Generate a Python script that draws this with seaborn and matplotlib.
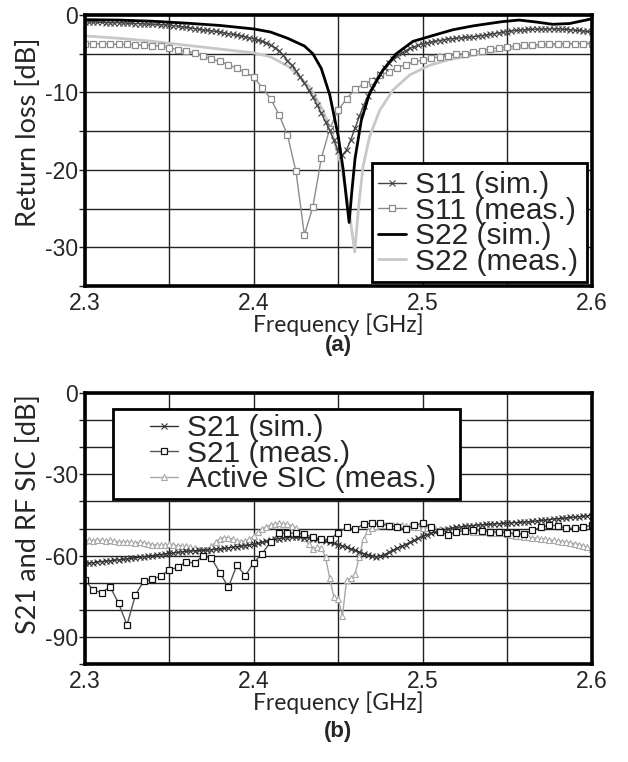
import numpy as np
import matplotlib
matplotlib.use('Agg')
import matplotlib.pyplot as plt
import seaborn as sns
from matplotlib.patches import Rectangle
from matplotlib.ticker import MultipleLocator, FixedLocator

# ---------------- data ----------------
# frequency grids [GHz]
freq_fine = np.round(np.linspace(2.3, 2.6, 121), 4)    # 2.5 MHz step
freq_coarse = np.round(np.linspace(2.3, 2.6, 61), 4)   # 5 MHz step

# (a) return loss [dB]
s11_sim = [-0.9, -0.9, -0.9, -0.92, -0.95, -0.97, -1.0, -1.0, -1.0, -1.02,
           -1.05, -1.07, -1.1, -1.12, -1.15, -1.17, -1.2, -1.22, -1.25, -1.27,
           -1.3, -1.37, -1.45, -1.52, -1.6, -1.67, -1.75, -1.82, -1.9, -1.97,
           -2.05, -2.12, -2.2, -2.3, -2.4, -2.5, -2.6, -2.7, -2.8, -2.95,
           -3.1, -3.25, -3.4, -3.6, -3.9, -4.2, -4.6, -5.2, -5.9, -6.5,
           -7.2, -8.0, -8.8, -9.7, -10.6, -11.6, -12.7, -13.8, -14.9, -16.2,
           -17.6, -18.1, -17.4, -16.1, -14.6, -13.1, -11.7, -10.5, -9.4, -8.4,
           -7.6, -6.9, -6.2, -5.7, -5.3, -4.9, -4.6, -4.3, -4.1, -3.9,
           -3.7, -3.6, -3.5, -3.4, -3.3, -3.2, -3.1, -3.05, -3.0, -2.95,
           -2.9, -2.85, -2.8, -2.72, -2.65, -2.57, -2.5, -2.4, -2.3, -2.22,
           -2.15, -2.07, -2.0, -1.95, -1.9, -1.87, -1.85, -1.82, -1.8, -1.8,
           -1.8, -1.8, -1.8, -1.82, -1.85, -1.9, -1.95, -2.0, -2.05, -2.12,
           -2.2]

s11_meas = [-3.7, -3.7, -3.75, -3.75, -3.8, -3.8, -3.85, -3.9, -3.95, -4.0,
            -4.2, -4.5, -4.7, -4.9, -5.3, -5.7, -6.0, -6.4, -6.9, -7.4,
            -8.0, -9.4, -10.8, -12.9, -15.5, -20.2, -28.4, -24.8, -18.5, -14.7,
            -12.3, -10.8, -9.6, -8.9, -8.5, -7.8, -7.3, -6.8, -6.4, -6.0,
            -5.85, -5.6, -5.4, -5.3, -5.1, -5.0, -4.8, -4.6, -4.4, -4.2,
            -4.1, -4.0, -3.9, -3.85, -3.8, -3.75, -3.7, -3.7, -3.7, -3.7,
            -3.7]

s22_sim_freq = [2.300, 2.320, 2.340, 2.360, 2.380, 2.400, 2.410, 2.420, 2.430,
                2.435, 2.440, 2.445, 2.450, 2.453, 2.455, 2.4565, 2.458, 2.460,
                2.4637, 2.4686, 2.4765, 2.4844, 2.4943, 2.510, 2.518, 2.530,
                2.547, 2.557, 2.567, 2.577, 2.587, 2.600]
s22_sim = [-0.6, -0.65, -0.8, -1.05, -1.35, -1.8, -2.2, -3.0, -4.0,
           -5.0, -6.9, -10.3, -15.6, -20.0, -24.0, -26.8, -23.0, -18.5,
           -13.6, -10.1, -7.1, -5.0, -3.4, -2.4, -1.9, -1.4,
           -0.86, -0.65, -0.9, -1.2, -1.1, -0.5]

s22_meas_freq = [2.300, 2.320, 2.340, 2.360, 2.380, 2.400, 2.410, 2.421, 2.433,
                 2.441, 2.447, 2.452, 2.4558, 2.4598, 2.4623, 2.4647, 2.4686,
                 2.4746, 2.4824, 2.4923, 2.504, 2.515, 2.530, 2.550, 2.570, 2.600]
s22_meas = [-2.7, -3.0, -3.4, -3.9, -4.4, -4.9, -5.4, -6.7, -9.3,
            -12.3, -15.7, -19.6, -24.3, -30.6, -24.3, -19.6, -15.7,
            -12.3, -9.7, -7.75, -6.5, -5.8, -5.2, -4.4, -4.0, -3.6]

# (b) S21 and RF SIC [dB]
s21_sim = [-62.9, -62.8, -62.6, -62.4, -62.2, -62.0, -61.9, -61.7, -61.6, -61.4,
           -61.2, -61.0, -60.8, -60.6, -60.4, -60.2, -60.0, -59.8, -59.6, -59.4,
           -59.2, -59.0, -58.8, -58.6, -58.4, -58.3, -58.2, -58.1, -58.0, -57.9,
           -57.8, -57.7, -57.5, -57.3, -57.1, -56.9, -56.7, -56.5, -56.3, -56.1,
           -55.8, -55.5, -55.1, -54.7, -54.3, -54.0, -53.7, -53.5, -53.4, -53.3,
           -53.3, -53.3, -53.4, -53.5, -53.7, -54.0, -54.4, -54.7, -55.1, -55.5,
           -55.9, -56.4, -56.9, -57.5, -58.1, -58.7, -59.3, -59.8, -60.2, -60.4,
           -60.2, -59.6, -58.8, -58.0, -57.3, -56.6, -55.9, -55.1, -54.4, -53.6,
           -52.9, -52.3, -51.7, -51.3, -50.9, -50.5, -50.2, -49.9, -49.6, -49.4,
           -49.2, -49.0, -48.9, -48.7, -48.6, -48.5, -48.4, -48.3, -48.2, -48.1,
           -48.0, -47.9, -47.8, -47.7, -47.6, -47.5, -47.4, -47.2, -47.0, -46.9,
           -46.7, -46.5, -46.4, -46.2, -46.1, -45.9, -45.8, -45.6, -45.5, -45.3,
           -45.2]

s21_meas = [-69.0, -72.7, -73.7, -71.5, -77.6, -85.6, -74.5, -69.3, -68.8, -67.5,
            -65.3, -64.3, -62.2, -62.8, -60.0, -61.0, -66.3, -71.7, -63.5, -67.4,
            -62.6, -59.3, -54.9, -51.8, -51.6, -51.8, -52.0, -53.3, -54.0, -54.0,
            -51.6, -49.6, -50.3, -48.3, -48.1, -48.1, -49.0, -49.3, -50.3, -48.7,
            -48.1, -49.3, -51.2, -52.4, -51.2, -50.8, -50.6, -50.8, -51.2, -51.4,
            -51.6, -51.8, -52.0, -50.6, -49.6, -48.7, -49.0, -49.9, -49.9, -49.6,
            -48.7]

active_sic = [-54.6, -54.3, -54.5, -54.2, -54.4, -54.6, -54.3, -54.7, -54.9, -55.0,
              -54.8, -55.1, -55.3, -55.0, -55.4, -55.6, -55.9, -56.0, -56.2, -56.1,
              -55.8, -56.0, -56.3, -56.4, -56.6, -56.9, -57.3, -57.8, -58.3, -58.0,
              -56.6, -55.0, -53.8, -53.4, -53.5, -53.9, -54.6, -55.0, -54.6, -54.0,
              -52.8, -51.3, -50.2, -49.3, -48.7, -48.3, -48.1, -48.2, -48.5, -48.9,
              -49.9, -51.5, -53.4, -55.8, -57.7, -57.0, -57.2, -60.5, -68.4, -75.4,
              -76.1, -82.3, -69.0, -68.4, -66.8, -60.5, -53.8, -51.0, -49.8, -49.0,
              -48.8, -48.7, -48.7, -48.6, -48.7, -48.8, -49.0, -49.1, -49.3, -49.5,
              -49.7, -49.9, -50.1, -50.2, -50.3, -50.4, -50.5, -50.6, -50.7, -50.8,
              -50.9, -51.0, -51.1, -51.2, -51.3, -51.4, -51.5, -51.6, -51.7, -51.8,
              -52.0, -52.3, -52.6, -52.8, -53.0, -53.2, -53.4, -53.6, -53.8, -54.0,
              -54.2, -54.4, -54.6, -54.8, -55.0, -55.3, -55.6, -55.9, -56.4, -57.0,
              -57.7]

x_ticks = [2.3, 2.4, 2.5, 2.6]
x_tick_labels = ['2.3', '2.4', '2.5', '2.6']

# ---------------- style ----------------
sns.set_style('white')
plt.rcParams['font.family'] = ['Liberation Sans', 'DejaVu Sans']
plt.rcParams['axes.unicode_minus'] = False
label_font = ['Lato', 'DejaVu Sans']

fig = plt.figure(figsize=(6.28, 7.62), dpi=100)
ax1 = fig.add_axes([0.135, 0.6247, 0.807, 0.3556])
ax2 = fig.add_axes([0.135, 0.1286, 0.807, 0.3556])

# top chart
sns.lineplot(x=s22_meas_freq, y=s22_meas, ax=ax1, color='#c8c8c8', lw=2.0,
             label='S22 (meas.)', zorder=2)
sns.lineplot(x=freq_coarse, y=s11_meas, ax=ax1, color='#8c8c8c', lw=1.0,
             marker='s', ms=5, mfc='white', mec='#8c8c8c', mew=0.9,
             label='S11 (meas.)', zorder=3)
sns.lineplot(x=freq_fine, y=s11_sim, ax=ax1, color='#444444', lw=1.0,
             marker='x', ms=4.5, mec='#444444', mew=0.8,
             label='S11 (sim.)', zorder=3)
sns.lineplot(x=s22_sim_freq, y=s22_sim, ax=ax1, color='black', lw=2.0,
             label='S22 (sim.)', zorder=3)

# bottom chart
sns.lineplot(x=freq_fine, y=active_sic, ax=ax2, color='#a8a8a8', lw=1.0,
             marker='^', ms=4.5, mfc='white', mec='#a8a8a8', mew=0.8,
             label='Active SIC (meas.)', zorder=2)
sns.lineplot(x=freq_fine, y=s21_sim, ax=ax2, color='#333333', lw=1.0,
             marker='x', ms=4.5, mec='#333333', mew=0.8,
             label='S21 (sim.)', zorder=3)
sns.lineplot(x=freq_coarse, y=s21_meas, ax=ax2, color='#555555', lw=1.0,
             marker='s', ms=5, mfc='white', mec='#111111', mew=0.9,
             label='S21 (meas.)', zorder=3)

for ax, ylim, major, minor, ylabel, ycoord in [
        (ax1, (-35, 0), 10, 5, 'Return loss [dB]', 0.568),
        (ax2, (-100, 0), 30, 10, 'S21 and RF SIC [dB]', 0.553)]:
    ax.set_xlim(2.3, 2.6)
    ax.set_ylim(*ylim)
    ax.xaxis.set_major_locator(FixedLocator(x_ticks))
    ax.set_xticklabels(x_tick_labels)
    ax.xaxis.set_minor_locator(MultipleLocator(0.05))
    ax.yaxis.set_major_locator(MultipleLocator(major))
    ax.yaxis.set_minor_locator(MultipleLocator(minor))
    ax.grid(which='both', color='#222222', lw=1.0)
    ax.set_axisbelow(True)
    ax.tick_params(axis='y', which='both', direction='out', length=4,
                   width=1, color='#222222', pad=1, labelsize=16.5, left=True)
    ax.tick_params(axis='x', which='both', length=0, pad=4, labelsize=16.5)
    for sp in ax.spines.values():
        sp.set_visible(True)
        sp.set_color('black')
        sp.set_linewidth(2.6)
        sp.set_zorder(10)
    ax.set_xlabel('Frequency [GHz]', family=label_font, fontsize=16.4, va='center')
    ax.xaxis.set_label_coords(0.5, -0.142)
    ax.set_ylabel(ylabel, family=label_font, fontsize=19.5, va='center')
    ax.yaxis.set_label_coords(-0.112, ycoord)

# legends: white box drawn separately, entries on top
leg_kw = dict(frameon=False, fontsize=21.5, handlelength=0.95, handletextpad=0.3,
              labelspacing=-0.08, borderpad=0, borderaxespad=0, numpoints=1,
              loc='upper left')

ax1.add_patch(Rectangle((0.566, 0.0148), 0.424, 0.439, transform=ax1.transAxes,
                        facecolor='white', edgecolor='black', lw=2, zorder=4))
h, l = ax1.get_legend_handles_labels()
order1 = ['S11 (sim.)', 'S11 (meas.)', 'S22 (sim.)', 'S22 (meas.)']
leg1 = ax1.legend([h[l.index(k)] for k in order1], order1,
                  bbox_to_anchor=(0.578, 0.424), **leg_kw)
leg1.set_zorder(6)

ax2.add_patch(Rectangle((0.0552, 0.609), 0.686, 0.332, transform=ax2.transAxes,
                        facecolor='white', edgecolor='black', lw=2, zorder=4))
h, l = ax2.get_legend_handles_labels()
order2 = ['S21 (sim.)', 'S21 (meas.)', 'Active SIC (meas.)']
leg2 = ax2.legend([h[l.index(k)] for k in order2], order2,
                  bbox_to_anchor=(0.128, 0.922), **leg_kw)
leg2.set_zorder(6)

fig.text(0.539, 1 - 346 / 762, '(a)', ha='center', va='center',
         fontsize=16, fontweight='bold')
fig.text(0.539, 1 - 731 / 762, '(b)', ha='center', va='center',
         fontsize=16, fontweight='bold')

fig.savefig('out.png', dpi=100, facecolor='white')
